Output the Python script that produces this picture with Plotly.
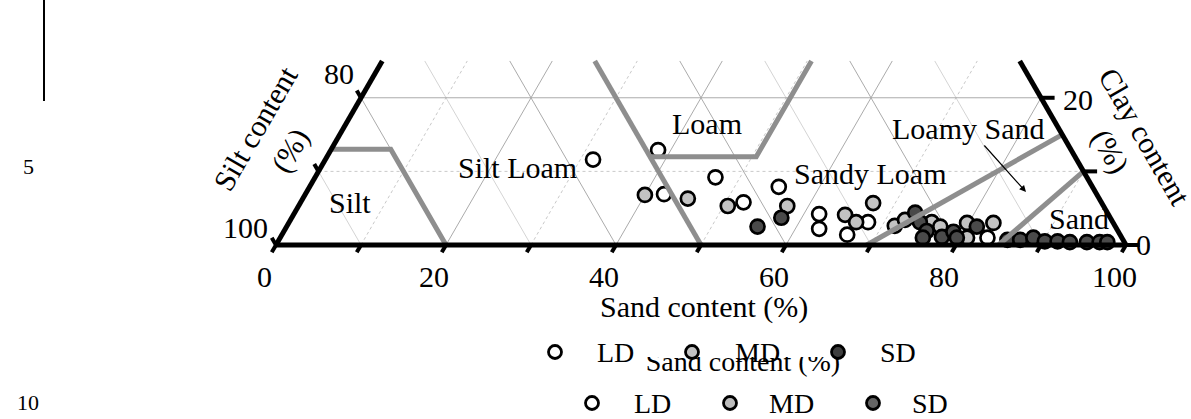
import numpy as np
import plotly.graph_objects as go

W, H = 1191, 419
X0PX, Y0PX, PXU = 276, 245, 8.5   # pixel position of sand=0/clay=0 vertex, pixels per unit
CLAY_TOP = 25                     # diagram cropped at this clay content
FONT = "Liberation Serif"
R3 = np.sqrt(3) / 2

# ---------------- data (sand %, clay %) ----------------
ld_sand = [31.5, 38.5, 42.2, 47.1, 52.1, 55.2, 61.8, 62.8, 66.5, 68.1, 83.2]
ld_clay = [11.6, 12.9, 6.9, 9.2, 5.8, 7.9, 4.2, 2.2, 1.4, 3.1, 1.0]

md_sand = [40.0, 45.3, 50.5, 57.5, 64.9, 66.7, 67.4, 71.5, 72.3, 75.6, 76.9, 79.8, 80.8, 82.9]
md_clay = [6.8, 6.3, 5.3, 5.3, 4.1, 3.1, 5.7, 2.6, 3.4, 3.1, 2.5, 3.0, 1.0, 3.0]

sd_sand = [55.4, 57.6, 73.0, 74.2, 75.6, 75.6, 77.8, 78.8, 79.6, 81.2, 85.7, 87.2, 88.6,
           90.2, 91.7, 93.2, 95.2, 96.7, 97.6]
sd_clay = [2.5, 3.7, 4.4, 3.1, 1.9, 1.0, 1.1, 1.8, 1.0, 2.5, 0.7, 0.7, 1.0,
           0.5, 0.5, 0.4, 0.4, 0.4, 0.4]

# texture-class boundaries (sand, clay)
bnd_silt = ([0, 7, 20], [13, 13, 0])
bnd_silt50 = ([25, 50], [25, 0])
bnd_loam = ([38, 50.5, 50.5], [12, 12, 25])
bnd_loamysand = ([69.5, 85], [0, 15])
bnd_sand = ([85, 90], [0, 10])

class_names = ["Silt", "Silt Loam", "Loam", "Sandy Loam", "Loamy Sand", "Sand"]
class_pos_px = [(350, 202), (517, 167), (707, 123), (870, 173), (968, 128), (1079, 218)]

sand_ticks = [0, 20, 40, 60, 80, 100]
series_names = ["LD", "MD", "SD"]


def tern(s, c):
    s = np.asarray(s, float)
    c = np.asarray(c, float)
    return s + c / 2, c * R3


def px2u(px, py):
    return (px - X0PX) / PXU, (Y0PX - py) / PXU


fig = go.Figure()


def add_segments(segs, color, width, dash="solid"):
    xs, ys = [], []
    for (s0, c0), (s1, c1) in segs:
        x, y = tern([s0, s1], [c0, c1])
        xs += list(x) + [None]
        ys += list(y) + [None]
    fig.add_trace(go.Scatter(x=xs, y=ys, mode="lines", hoverinfo="skip", showlegend=False,
                             line=dict(color=color, width=width, dash=dash)))


def sand_line(s):
    return ((s, 0), (s, min(CLAY_TOP, 100 - s)))


def silt_line(t):
    b = 100 - t
    if b <= CLAY_TOP:
        return ((b, 0), (0, b))
    return ((b, 0), (b - CLAY_TOP, CLAY_TOP))


def clay_line(c):
    return ((0, c), (100 - c, c))


# minor grid (10s)
add_segments([sand_line(s) for s in range(10, 100, 20)] + [clay_line(10)], "#c9c9c9", 1, "dot")
add_segments([silt_line(t) for t in range(10, 100, 20)], "#d4d4d4", 1)
# major grid (20s)
add_segments([sand_line(s) for s in range(20, 100, 20)] +
             [silt_line(t) for t in range(20, 100, 20)] + [clay_line(20)], "#ababab", 1)

# data points
for name, s, c, fill in [("LD", ld_sand, ld_clay, "white"),
                         ("MD", md_sand, md_clay, "#c3c3c3"),
                         ("SD", sd_sand, sd_clay, "#4a4a4a")]:
    x, y = tern(s, c)
    fig.add_trace(go.Scatter(x=x, y=y, mode="markers", name=name, showlegend=False,
                             marker=dict(size=14, color=fill, line=dict(color="black", width=2.7))))

# class boundaries
for bs, bc in [bnd_silt, bnd_silt50, bnd_loam, bnd_loamysand, bnd_sand]:
    x, y = tern(bs, bc)
    fig.add_trace(go.Scatter(x=x, y=y, mode="lines", hoverinfo="skip", showlegend=False,
                             line=dict(color="#8e8e8e", width=5)))

# triangle edges
add_segments([((0, 0), (100, 0)), ((0, 0), (0, CLAY_TOP)), ((100, 0), (100 - CLAY_TOP, CLAY_TOP))],
             "black", 5)

# ticks
tick_len = 1.0
tx, ty = [], []
for s in range(0, 101, 10):
    x, y = tern([s], [0])
    tx += [x[0], x[0] - 0.5 * tick_len, None]
    ty += [y[0], y[0] - R3 * tick_len, None]
for c in [0, 10, 20]:
    x, y = tern([0], [c])
    tx += [x[0], x[0] - 0.5 * tick_len, None]
    ty += [y[0], y[0] + R3 * tick_len, None]
    x, y = tern([100 - c], [c])
    tx += [x[0], x[0] + 1.6, None]
    ty += [y[0], y[0], None]
fig.add_trace(go.Scatter(x=tx, y=ty, mode="lines", hoverinfo="skip", showlegend=False,
                         line=dict(color="black", width=4)))

ann = []
tf = dict(family=FONT, size=30, color="black")
# bottom tick labels
for s in sand_ticks:
    x, y = tern([s], [0])
    ann.append(dict(x=x[0], y=y[0], xref="x", yref="y", text=str(s), showarrow=False,
                    xshift=-12, yshift=-31, font=tf))
# silt axis labels
for c, (dx, dy) in [(0, (-31, 18)), (20, (-22, 24))]:
    x, y = tern([0], [c])
    ann.append(dict(x=x[0], y=y[0], xref="x", yref="y", text=str(100 - c), showarrow=False,
                    xshift=dx, yshift=dy, font=tf))
# clay axis labels
for c, (dx, dy) in [(0, (17, 1)), (20, (37, -2))]:
    x, y = tern([100 - c], [c])
    ann.append(dict(x=x[0], y=y[0], xref="x", yref="y", text=str(c), showarrow=False,
                    xshift=dx, yshift=dy, font=tf))
# class labels
for name, (px, py) in zip(class_names, class_pos_px):
    u, v = px2u(px, py)
    ann.append(dict(x=u, y=v, xref="x", yref="y", text=name, showarrow=False, font=tf))
# arrow Loamy Sand
hu, hv = px2u(1026, 192)
tu, tv = px2u(983, 144)
ann.append(dict(x=hu, y=hv, ax=tu, ay=tv, xref="x", yref="y", axref="x", ayref="y", text="",
                showarrow=True, arrowhead=2, arrowsize=1.1, arrowwidth=1.2, arrowcolor="black"))


def pann(px, py, text, angle=0, size=30):
    return dict(x=px / W, y=1 - py / H, xref="paper", yref="paper", text=text, showarrow=False,
                textangle=angle, font=dict(family=FONT, size=size, color="black"),
                xanchor="center", yanchor="middle")


ann += [pann(704, 307, "Sand content (%)"),
        pann(255, 128, "Silt content", -60), pann(290, 151, "(%)", -60),
        pann(1145, 136, "Clay content", 60), pann(1110, 151, "(%)", 60),
        pann(28, 167, "5", size=22), pann(28, 402, "10", size=22)]

# legend rows (drawn manually, two copies as in the source)
leg_rows = [
    dict(ypx=352, mk=[555, 692, 838], txt=[615, 757, 898], fills=["white", "#c3c3c3", "#3e3e3e"]),
    dict(ypx=403, mk=[592, 730, 873], txt=[652, 792, 930], fills=["white", "#bdbdbd", "#646464"]),
]

# lower (partially hidden) axis title, clipped at the top
fig.add_trace(go.Scatter(x=[743], y=[364], xaxis="x3", yaxis="y3", mode="text", text=["Sand content (%)"],
                         textposition="middle center", textfont=dict(family=FONT, size=28, color="black"),
                         cliponaxis=True, hoverinfo="skip", showlegend=False))

for row in leg_rows:
    fig.add_trace(go.Scatter(x=row["mk"], y=[row["ypx"]] * 3, xaxis="x2", yaxis="y2", mode="markers",
                             hoverinfo="skip", showlegend=False,
                             marker=dict(size=13, color=row["fills"], line=dict(color="black", width=2.8))))
    for tpx, nm in zip(row["txt"], series_names):
        ann.append(pann(tpx, row["ypx"], nm, size=28))

fig.update_layout(
    width=W, height=H, margin=dict(l=0, r=0, t=0, b=0), autosize=False,
    paper_bgcolor="white", plot_bgcolor="rgba(0,0,0,0)",
    xaxis=dict(range=[(0 - X0PX) / PXU, (W - X0PX) / PXU], domain=[0, 1], visible=False, fixedrange=True),
    yaxis=dict(range=[(Y0PX - H) / PXU, Y0PX / PXU], domain=[0, 1], visible=False, fixedrange=True),
    xaxis2=dict(range=[0, W], domain=[0, 1], anchor="y2", visible=False),
    yaxis2=dict(range=[H, 0], domain=[0, 1], anchor="x2", visible=False),
    xaxis3=dict(range=[0, W], domain=[0, 1], anchor="y3", visible=False),
    yaxis3=dict(range=[H, 357], domain=[0, (H - 357) / H], anchor="x3", visible=False),
    annotations=ann,
    shapes=[dict(type="line", xref="paper", yref="paper", x0=44 / W, x1=44 / W, y0=1, y1=1 - 101 / H,
                 line=dict(color="black", width=2))],
    showlegend=False,
)

fig.write_html("out.html", config={"displayModeBar": False},
               post_script="document.body.style.margin='0px';document.body.style.overflow='hidden';")
